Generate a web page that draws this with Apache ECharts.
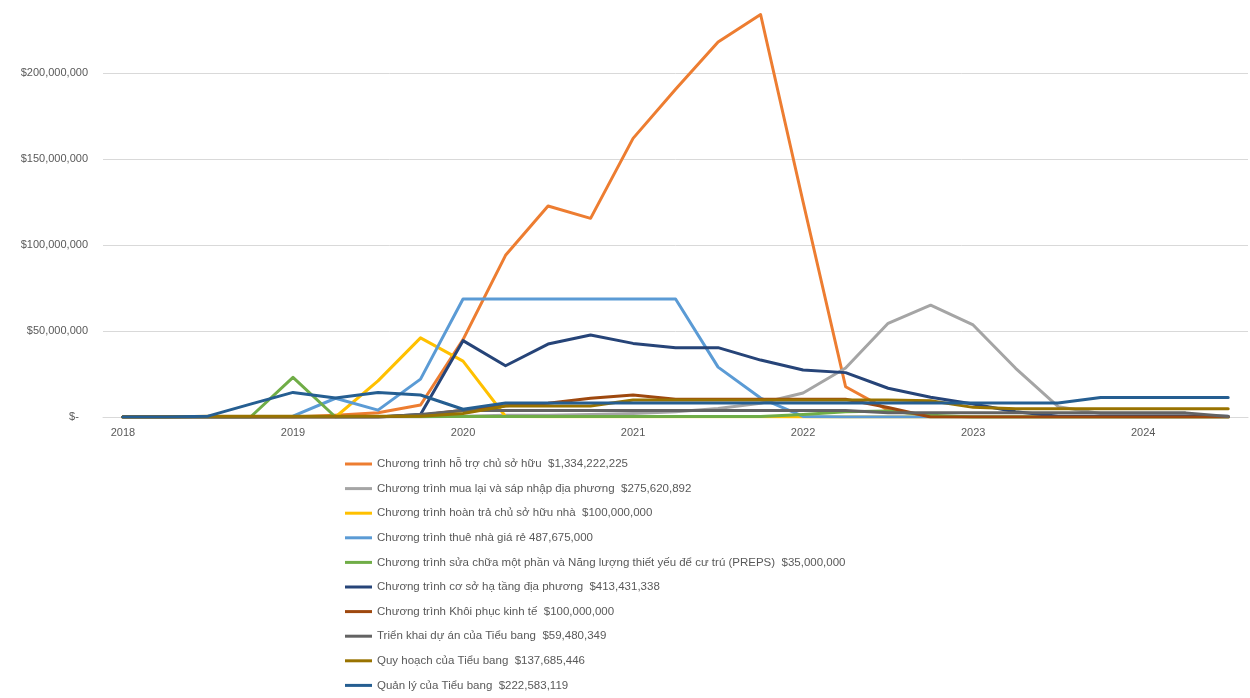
<!DOCTYPE html>
<html>
<head>
<meta charset="utf-8">
<script src="https://cdn.jsdelivr.net/npm/echarts@6/dist/echarts.min.js"></script>
<style>
  html, body { margin: 0; padding: 0; background: #ffffff; }
  #chart { width: 1250px; height: 698px; }
</style>
</head>
<body>
<div id="chart"></div>
<script>
// Quarterly spending by programme, in millions of dollars
const quarters = [
  2018, 2018.25, 2018.5, 2018.75,
  2019, 2019.25, 2019.5, 2019.75,
  2020, 2020.25, 2020.5, 2020.75,
  2021, 2021.25, 2021.5, 2021.75,
  2022, 2022.25, 2022.5, 2022.75,
  2023, 2023.25, 2023.5, 2023.75,
  2024, 2024.25, 2024.5
];
const yearTicks = [2018, 2019, 2020, 2021, 2022, 2023, 2024];

const seriesNames = [
  'Chương trình hỗ trợ chủ sở hữu  $1,334,222,225',
  'Chương trình mua lại và sáp nhập địa phương  $275,620,892',
  'Chương trình hoàn trả chủ sở hữu nhà  $100,000,000',
  'Chương trình thuê nhà giá rẻ 487,675,000',
  'Chương trình sửa chữa một phần và Năng lượng thiết yếu để cư trú (PREPS)  $35,000,000',
  'Chương trình cơ sở hạ tầng địa phương  $413,431,338',
  'Chương trình Khôi phục kinh tế  $100,000,000',
  'Triển khai dự án của Tiểu bang  $59,480,349',
  'Quy hoạch của Tiểu bang  $137,685,446',
  'Quản lý của Tiểu bang  $222,583,119'
];

const homeowner = [0, 0, 0, 0, 0, 1, 2.5, 7, 45, 94, 122.7, 115.5, 162, 190.5, 218, 234, 125, 17.6, 4, 0.5, 0, 0, 0, 0, 0, 0, 0];
const buyout = [0, 0, 0, 0, 0, 0, 0, 0, 0.5, 1, 1, 1.5, 2, 3, 5, 8, 14, 28.5, 54.5, 65, 53.5, 28.3, 6, 2, 1.5, 1, 0.3];
const reimbursement = [0, 0, 0, 0, 0, 0, 21, 46, 32.5, 0.3, 0.1, 0.1, 0.1, 0.1, 0.1, 0.1, 0, 0, 0, 0, 0, 0, 0, 0, 0, 0, 0];
const affordableRental = [0, 0, 0, 0, 0.5, 10.9, 4, 22, 68.6, 68.6, 68.6, 68.6, 68.6, 68.6, 29, 11, 0.3, 0, 0, 0, 0, 0, 0, 0, 0, 0, 0];
const preps = [0, 0, 0, 0, 23, 0, 0.3, 0.3, 0.3, 0.3, 0.3, 0.3, 0.3, 0.3, 0.3, 0.3, 1.5, 3, 3.5, 1, 0, 0, 0, 0, 0, 0, 0];
const infrastructure = [0, 0, 0, 0, 0, 0, 0, 1.5, 44.4, 29.8, 42.4, 47.7, 42.8, 40.3, 40.3, 33.1, 27.3, 25.8, 16.7, 11.5, 7.5, 3, 0.5, 0.5, 0.5, 0.5, 0.5];
const economicRecovery = [0, 0, 0, 0, 0, 0, 0, 1, 4, 6.5, 8, 10.9, 12.8, 10.3, 10.3, 10.3, 10.3, 10.3, 5.5, 0, 0, 0, 0, 0, 0, 0, 0];
const stateDelivery = [0, 0, 0, 0, 0, 0, 0, 1.5, 3.8, 3.8, 3.8, 3.8, 3.8, 3.8, 3.8, 3.8, 3.8, 3.8, 2.5, 2.4, 2.4, 2.4, 2.4, 2.4, 2.4, 2.4, 0.3];
const statePlanning = [0, 0, 0.5, 0.5, 0.5, 0.5, 0.5, 0.5, 2, 6.4, 6.4, 6.4, 9.9, 9.9, 9.9, 9.9, 9.9, 9.9, 9.9, 9.5, 5.6, 4.8, 4.8, 4.8, 4.8, 4.8, 4.8];
const stateAdmin = [0, 0, 0.5, 7.5, 14.3, 11, 14.3, 12.8, 4.5, 8.2, 8.2, 8.2, 8.2, 8.2, 8.2, 8.2, 8.2, 8.2, 8.2, 8.2, 8.2, 8.2, 8.2, 11.3, 11.3, 11.3, 11.3];

const allValues = [homeowner, buyout, reimbursement, affordableRental, preps,
  infrastructure, economicRecovery, stateDelivery, statePlanning, stateAdmin];
const colors = ['#ED7D31', '#A5A5A5', '#FFC000', '#5B9BD5', '#70AD47',
  '#264478', '#9E480E', '#636363', '#997300', '#255E91'];

const chart = echarts.init(document.getElementById('chart'), null, { renderer: 'canvas' });

const series = seriesNames.map((name, k) => ({
  name: name,
  type: 'line',
  data: quarters.map((q, i) => [q, allValues[k][i]]),
  showSymbol: false,
  symbol: 'none',
  color: colors[k],
  lineStyle: { width: 3, color: colors[k], cap: 'round', join: 'round' },
  emphasis: { disabled: true },
  animation: false
}));

const fontFamily = '"Liberation Sans", Arial, sans-serif';

chart.setOption({
  backgroundColor: '#ffffff',
  animation: false,
  grid: {
    left: 103, right: 2, top: -13, height: 430,
    containLabel: false,
    outerBoundsMode: 'none'
  },
  xAxis: {
    type: 'value',
    min: 2017.8826,
    max: 2024.6165,
    axisLine: { show: true, lineStyle: { color: '#D9D9D9', width: 1 } },
    axisTick: { show: false },
    splitLine: { show: false },
    axisLabel: {
      customValues: yearTicks,
      formatter: v => String(v),
      color: '#595959',
      fontSize: 11,
      fontFamily: fontFamily,
      margin: 10
    }
  },
  yAxis: {
    type: 'value',
    min: 0,
    max: 250,
    interval: 50,
    axisLine: { show: false },
    axisTick: { show: false },
    splitLine: { show: true, lineStyle: { color: '#D9D9D9', width: 1 } },
    axisLabel: {
      color: '#595959',
      fontSize: 11,
      fontFamily: fontFamily,
      margin: 15,
      formatter: v => v === 0 ? '$-   ' : '$' + (v * 1000000).toLocaleString('en-US')
    }
  },
  legend: {
    orient: 'vertical',
    left: 345,
    top: 457,
    padding: 0,
    itemWidth: 27,
    itemHeight: 3,
    itemGap: 10.6,
    icon: 'rect',
    selectedMode: false,
    textStyle: {
      color: '#595959',
      fontSize: 11.5,
      fontFamily: fontFamily,
      lineHeight: 14
    },
    data: seriesNames
  },
  series: series
});
</script>
</body>
</html>
